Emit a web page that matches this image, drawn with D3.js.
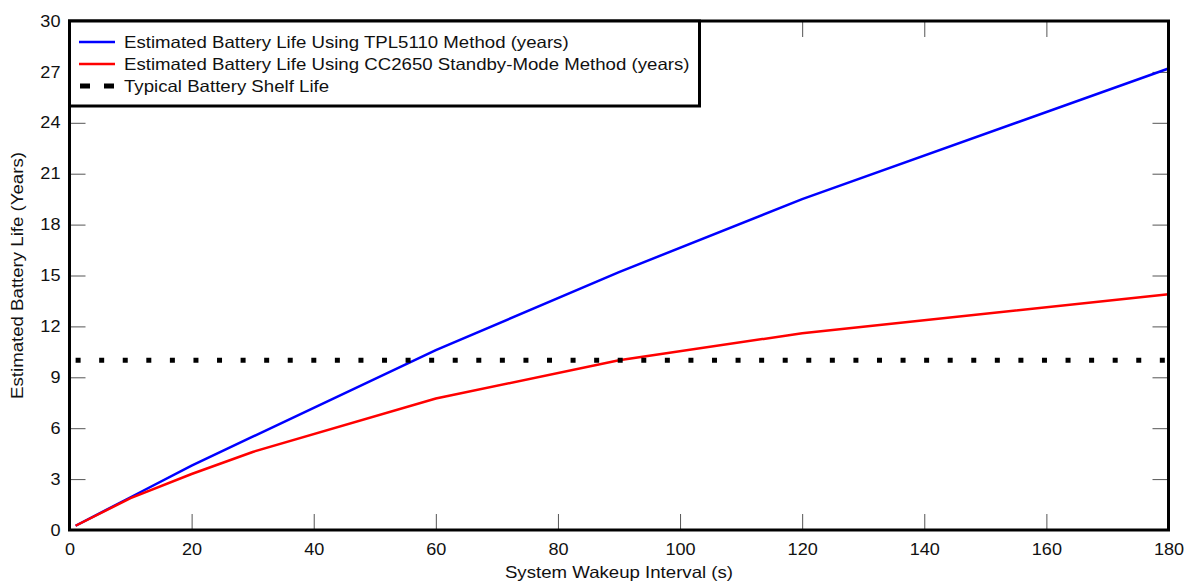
<!DOCTYPE html>
<html>
<head>
<meta charset="utf-8">
<script src="https://cdn.jsdelivr.net/npm/d3@7"></script>
<style>
  body { margin: 0; background: #fff; }
  text { font-family: "Liberation Sans", Arial, sans-serif; }
</style>
</head>
<body>
<div id="chart"></div>
<script>
// chart size and plot box
const width = 1188;
const height = 582;
const margin = {left: 69.5, right: 19.5, top: 21, bottom: 52};
const stretch = 1.13; // reference text is a bit wider than Arial

// data
const wakeup = [1, 10, 20, 30, 60, 90, 120, 180];
const tplLife = [0.25, 1.93, 3.8, 5.5, 10.6, 15.2, 19.5, 27.2];
const ccLife = [0.25, 1.88, 3.3, 4.6, 7.75, 10.0, 11.6, 13.9];
const shelfLife = 10;
const shelfRange = [1, 180];
const xTicks = [0, 20, 40, 60, 80, 100, 120, 140, 160, 180];
const yTicks = [0, 3, 6, 9, 12, 15, 18, 21, 24, 27, 30];
const legendLabels = [
  "Estimated Battery Life Using TPL5110 Method (years)",
  "Estimated Battery Life Using CC2650 Standby-Mode Method (years)",
  "Typical Battery Shelf Life"
];

const svg = d3.select("#chart")
  .append("svg")
  .attr("width", width)
  .attr("height", height);

const x = d3.scaleLinear()
  .domain([0, 180])
  .range([margin.left, width - margin.right]);

const y = d3.scaleLinear()
  .domain([0, 30])
  .range([height - margin.bottom, margin.top]);

const tickLen = 16;

// axes with inward ticks on all four sides
const axisL = svg.append("g")
  .attr("transform", `translate(${margin.left},0)`)
  .call(d3.axisLeft(y).tickValues(yTicks).tickSize(-tickLen).tickPadding(8));

const axisB = svg.append("g")
  .attr("transform", `translate(0,${height - margin.bottom})`)
  .call(d3.axisBottom(x).tickValues(xTicks).tickSize(-tickLen).tickPadding(14));

const axisR = svg.append("g")
  .attr("transform", `translate(${width - margin.right},0)`)
  .call(d3.axisRight(y).tickValues(yTicks).tickSize(-tickLen).tickFormat(""));

const axisT = svg.append("g")
  .attr("transform", `translate(0,${margin.top})`)
  .call(d3.axisTop(x).tickValues(xTicks).tickSize(-tickLen).tickFormat(""));

[axisL, axisB, axisR, axisT].forEach(g => {
  g.select(".domain").remove();
  g.selectAll(".tick line").attr("stroke", "#555").attr("stroke-width", 1);
  g.selectAll(".tick text")
    .attr("fill", "#111")
    .attr("font-size", "16px")
    .attr("font-family", "'Liberation Sans', Arial, sans-serif")
    .attr("transform", `scale(${stretch},1)`);
});

// lines
const line = d3.line()
  .x(d => x(d[0]))
  .y(d => y(d[1]));

svg.append("path")
  .datum(wakeup.map((w, i) => [w, tplLife[i]]))
  .attr("fill", "none")
  .attr("stroke", "#0000ff")
  .attr("stroke-width", 2.5)
  .attr("d", line);

svg.append("path")
  .datum(wakeup.map((w, i) => [w, ccLife[i]]))
  .attr("fill", "none")
  .attr("stroke", "#ff0000")
  .attr("stroke-width", 2.5)
  .attr("d", line);

// shelf life dotted line
svg.append("line")
  .attr("x1", x(shelfRange[0]))
  .attr("x2", x(shelfRange[1]))
  .attr("y1", y(shelfLife))
  .attr("y2", y(shelfLife))
  .attr("stroke", "#000")
  .attr("stroke-width", 5)
  .attr("stroke-dasharray", "5 18.57");

// plot frame
svg.append("rect")
  .attr("x", margin.left)
  .attr("y", margin.top)
  .attr("width", width - margin.left - margin.right)
  .attr("height", height - margin.top - margin.bottom)
  .attr("fill", "none")
  .attr("stroke", "#000")
  .attr("stroke-width", 3);

// legend
const legend = svg.append("g");
legend.append("rect")
  .attr("x", margin.left)
  .attr("y", margin.top)
  .attr("width", 630)
  .attr("height", 85)
  .attr("fill", "#fff")
  .attr("stroke", "#000")
  .attr("stroke-width", 3);

const legendColors = ["#0000ff", "#ff0000", "#000"];
legendLabels.forEach((label, i) => {
  const ly = 42 + i * 22;
  if (i < 2) {
    legend.append("line")
      .attr("x1", 79).attr("x2", 115)
      .attr("y1", ly).attr("y2", ly)
      .attr("stroke", legendColors[i])
      .attr("stroke-width", 2.5);
  } else {
    legend.append("line")
      .attr("x1", 80).attr("x2", 115)
      .attr("y1", ly).attr("y2", ly)
      .attr("stroke", "#000")
      .attr("stroke-width", 5)
      .attr("stroke-dasharray", "10 14");
  }
  legend.append("text")
    .attr("transform", `translate(124,${ly + 6}) scale(${stretch},1)`)
    .attr("font-size", "16.5px")
    .attr("fill", "#111")
    .text(label);
});

// axis titles
svg.append("text")
  .attr("transform", `translate(${(margin.left + width - margin.right) / 2},578) scale(${stretch},1)`)
  .attr("text-anchor", "middle")
  .attr("font-size", "16.5px")
  .attr("fill", "#111")
  .text("System Wakeup Interval (s)");

svg.append("text")
  .attr("transform", `translate(23,${(margin.top + height - margin.bottom) / 2}) rotate(-90) scale(${stretch},1)`)
  .attr("text-anchor", "middle")
  .attr("font-size", "16.5px")
  .attr("fill", "#111")
  .text("Estimated Battery Life (Years)");
</script>
</body>
</html>
